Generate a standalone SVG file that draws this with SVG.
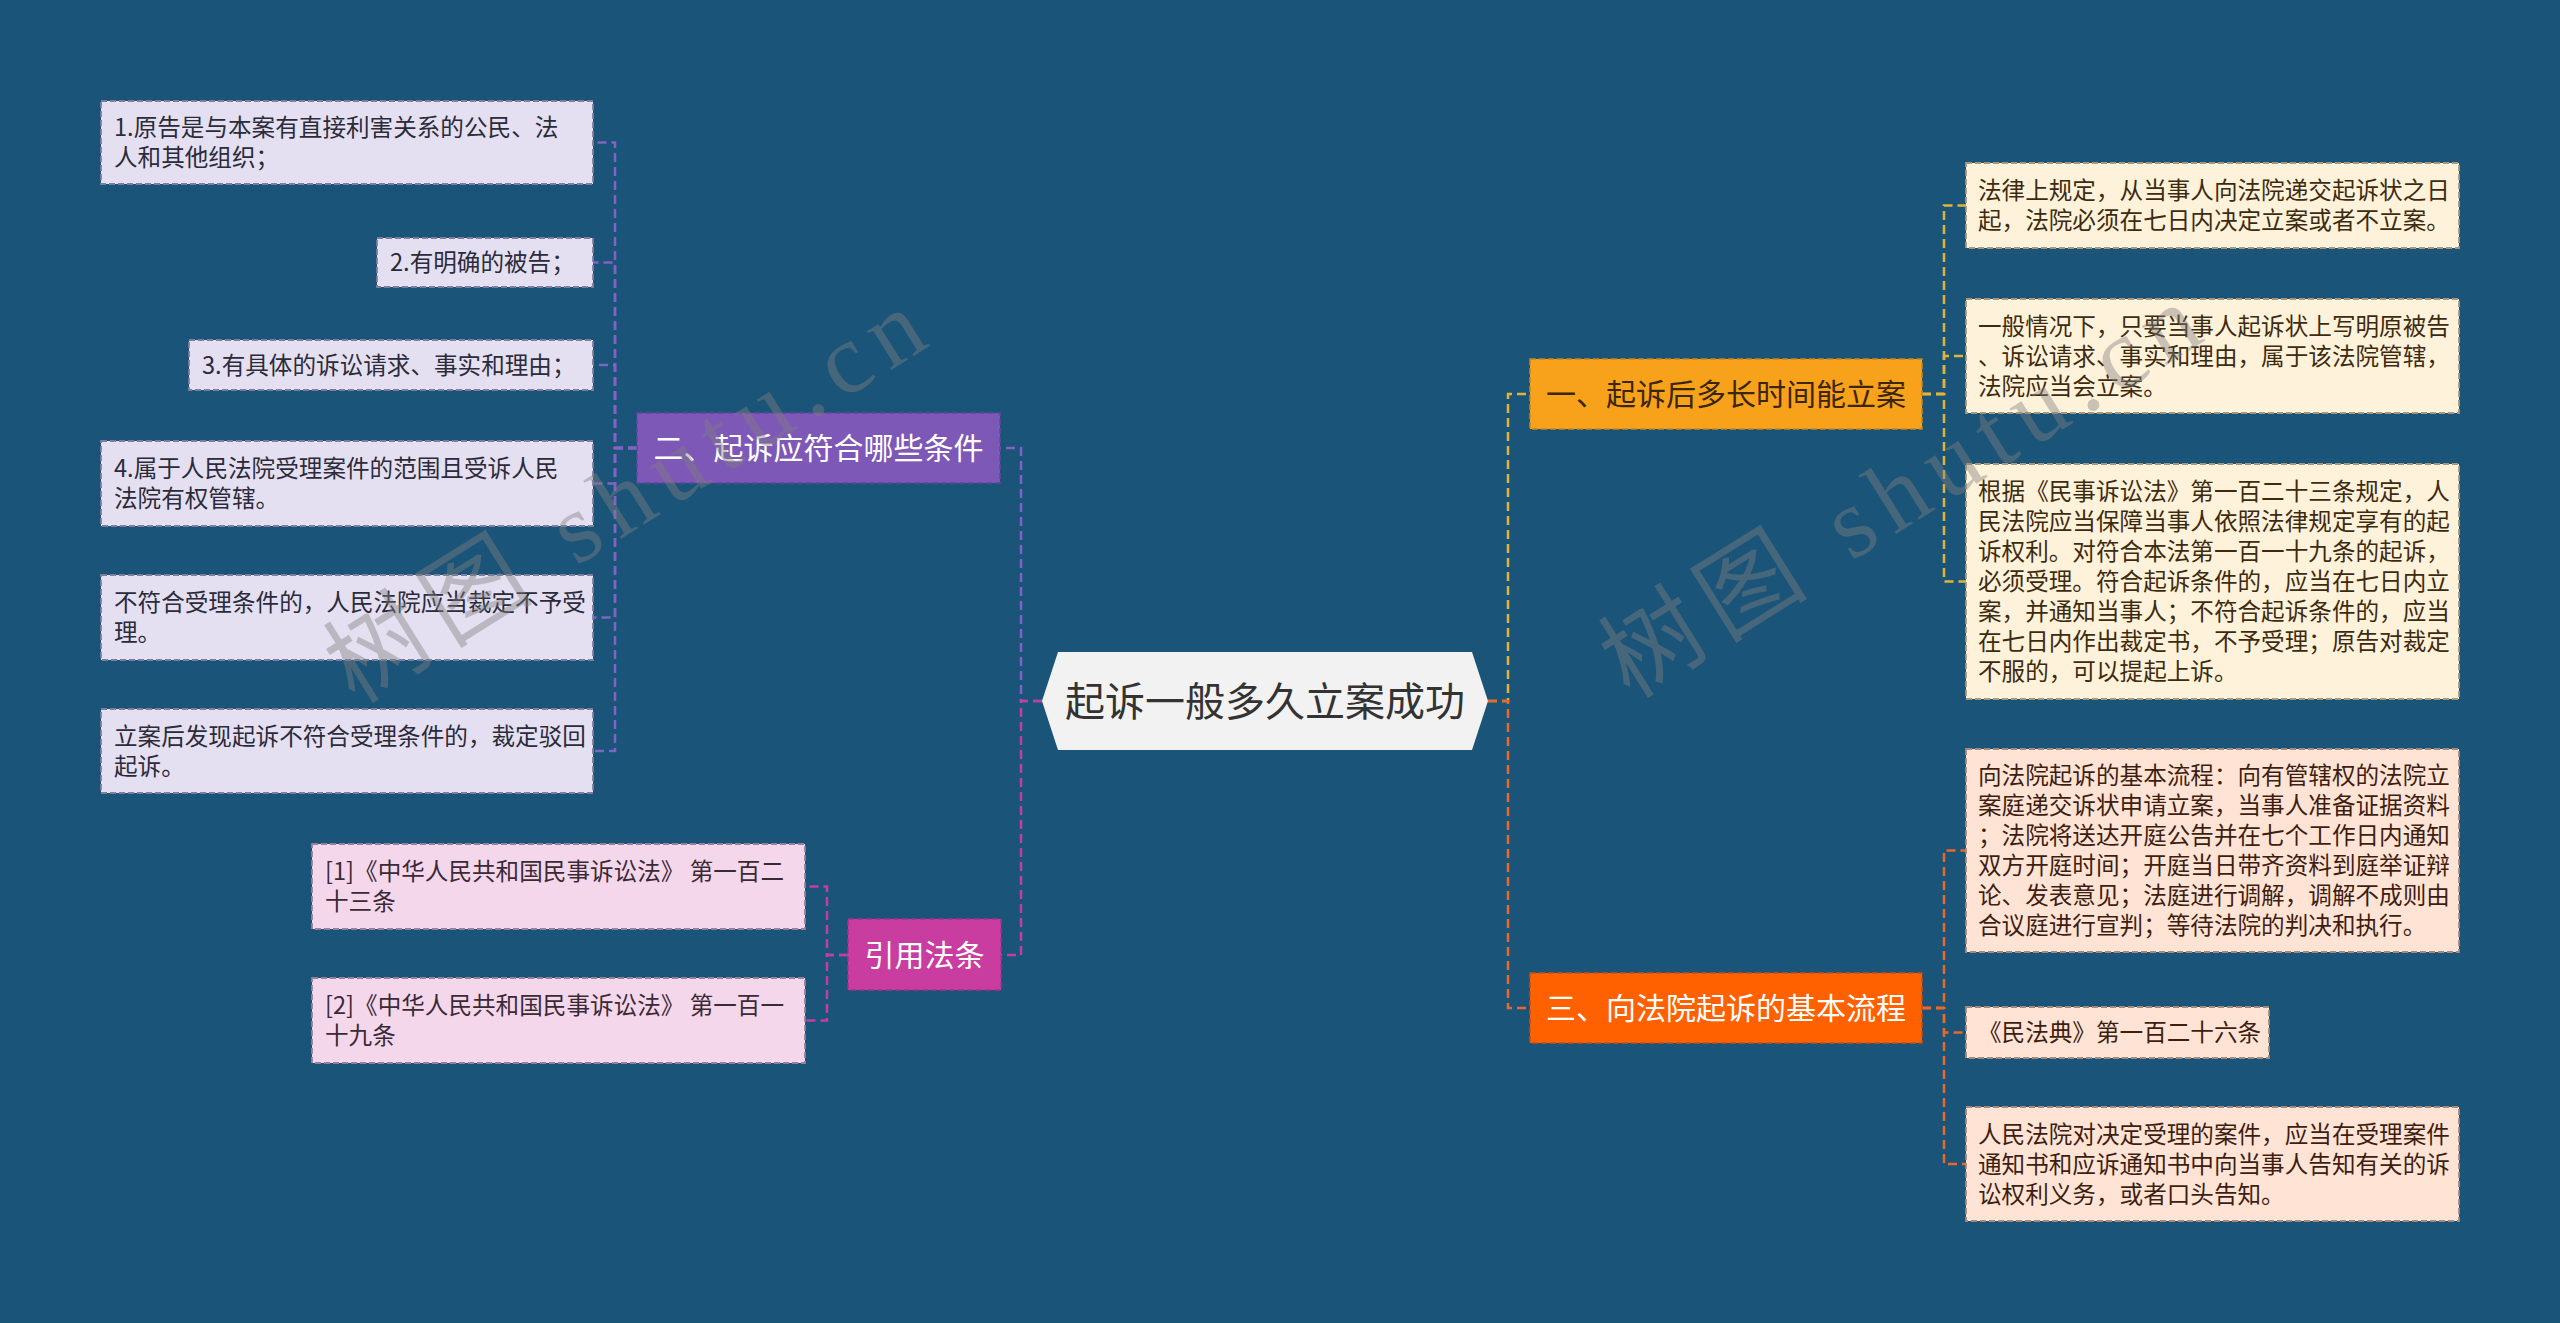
<svg xmlns="http://www.w3.org/2000/svg" width="2560" height="1323" viewBox="0 0 2560 1323">
<style>
text{font-family:"Noto Sans CJK SC","Noto Sans",sans-serif}
.t{font-size:23.6px}
.n{font-size:30px;text-anchor:middle}
.cl{fill:none;stroke-width:2.5;stroke-dasharray:9 5}
.pu{stroke:#8262c4}
.mg{stroke:#c63da0}
.ye{stroke:#e2b23a}
.or{stroke:#e8692a}
.bl{fill:#e5e0f1;stroke:#7f7d9e;stroke-width:1.8;stroke-dasharray:6 3}
.bp{fill:#f5d7ec;stroke:#98809a;stroke-width:1.8;stroke-dasharray:6 3}
.bc{fill:#fff2da;stroke:#a89878;stroke-width:1.8;stroke-dasharray:6 3}
.bd{fill:#ffe4d6;stroke:#a88878;stroke-width:1.8;stroke-dasharray:6 3}
.tl{fill:#2b2b3a}
.tp{fill:#3a2a35}
.tc{fill:#3d2b10}
.td{fill:#3d1e10}
.wm{font-family:"Liberation Serif","Noto Sans CJK SC",serif;font-size:100px;fill:#808080;opacity:0.42}
</style>
<rect x="0" y="0" width="2560" height="1323" fill="#1a5478"/>

<g id="connectors">
<path class="cl pu" d="M1042,701 H1021 V448 H1000"/>
<path class="cl mg" d="M1042,701 H1021 V955 H1001"/>
<path class="cl ye" d="M1488,701 H1508 V394 H1530"/>
<path class="cl or" d="M1488,701 H1508 V1008 H1530"/>
<path class="cl pu" d="M637,448 H615 V142.5 H593"/>
<path class="cl pu" d="M637,448 H615 V262.5 H593"/>
<path class="cl pu" d="M637,448 H615 V365 H593"/>
<path class="cl pu" d="M637,448 H615 V483.5 H593"/>
<path class="cl pu" d="M637,448 H615 V617.5 H593"/>
<path class="cl pu" d="M637,448 H615 V751 H593"/>
<path class="cl mg" d="M848,955 H827 V886.5 H805"/>
<path class="cl mg" d="M848,955 H827 V1020.5 H805"/>
<path class="cl ye" d="M1922,394 H1944 V205.5 H1966"/>
<path class="cl ye" d="M1922,394 H1944 V356 H1966"/>
<path class="cl ye" d="M1922,394 H1944 V581.5 H1966"/>
<path class="cl or" d="M1922,1008 H1944 V850.5 H1966"/>
<path class="cl or" d="M1922,1008 H1944 V1032.5 H1966"/>
<path class="cl or" d="M1922,1008 H1944 V1164 H1966"/>
</g>

<g id="root">
<polygon points="1042,701 1058,652 1472,652 1488,701 1472,750 1058,750" fill="#f2f2f2"/>
<text x="1265" y="716" font-size="40" text-anchor="middle" fill="#333">起诉一般多久立案成功</text>
</g>

<g id="n1">
<rect x="1530" y="359" width="392" height="70" fill="#f8a21c" stroke="#c9841a" stroke-width="1.5" stroke-dasharray="6 3"/>
<text class="n" x="1726" y="405" fill="#3b2608">一、起诉后多长时间能立案</text>
</g>
<g id="n3">
<rect x="1530" y="973" width="392" height="70" fill="#ff6000" stroke="#c84c10" stroke-width="1.5" stroke-dasharray="6 3"/>
<text class="n" x="1726" y="1019" fill="#ffffff">三、向法院起诉的基本流程</text>
</g>
<g id="n2">
<rect x="637" y="413" width="363" height="70" fill="#7e58b6" stroke="#6446a0" stroke-width="1.5" stroke-dasharray="6 3"/>
<text class="n" x="818.5" y="459" fill="#ffffff">二、起诉应符合哪些条件</text>
</g>
<g id="n4">
<rect x="848" y="919" width="153" height="71" fill="#c93da0" stroke="#a8308a" stroke-width="1.5" stroke-dasharray="6 3"/>
<text class="n" x="924.5" y="966" fill="#ffffff">引用法条</text>
</g>

<g id="b1">
<rect class="bl" x="101" y="101" width="492" height="83"/>
<text class="t tl" x="114" y="136">1.原告是与本案有直接利害关系的公民、法</text>
<text class="t tl" x="114" y="166">人和其他组织；</text>
</g>
<g id="b2">
<rect class="bl" x="377" y="238" width="216" height="49"/>
<text class="t tl" x="390" y="271">2.有明确的被告；</text>
</g>
<g id="b3">
<rect class="bl" x="189" y="340" width="404" height="50"/>
<text class="t tl" x="202" y="374">3.有具体的诉讼请求、事实和理由；</text>
</g>
<g id="b4">
<rect class="bl" x="101" y="441" width="492" height="85"/>
<text class="t tl" x="114" y="477">4.属于人民法院受理案件的范围且受诉人民</text>
<text class="t tl" x="114" y="507">法院有权管辖。</text>
</g>
<g id="b5">
<rect class="bl" x="101" y="575" width="492" height="85"/>
<text class="t tl" x="114" y="611">不符合受理条件的，人民法院应当裁定不予受</text>
<text class="t tl" x="114" y="641">理。</text>
</g>
<g id="b6">
<rect class="bl" x="101" y="709" width="492" height="84"/>
<text class="t tl" x="114" y="745">立案后发现起诉不符合受理条件的，裁定驳回</text>
<text class="t tl" x="114" y="775">起诉。</text>
</g>

<g id="r1">
<rect class="bp" x="312" y="844" width="493" height="85"/>
<text class="t tp" x="325" y="880">[1]《中华人民共和国民事诉讼法》 第一百二</text>
<text class="t tp" x="325" y="910">十三条</text>
</g>
<g id="r2">
<rect class="bp" x="312" y="978" width="493" height="85"/>
<text class="t tp" x="325" y="1014">[2]《中华人民共和国民事诉讼法》 第一百一</text>
<text class="t tp" x="325" y="1044">十九条</text>
</g>

<g id="c1">
<rect class="bc" x="1966" y="163" width="493" height="85"/>
<text class="t tc" x="1978" y="199">法律上规定，从当事人向法院递交起诉状之日</text>
<text class="t tc" x="1978" y="229">起，法院必须在七日内决定立案或者不立案。</text>
</g>
<g id="c2">
<rect class="bc" x="1966" y="299" width="493" height="114"/>
<text class="t tc" x="1978" y="335">一般情况下，只要当事人起诉状上写明原被告</text>
<text class="t tc" x="1978" y="365">、诉讼请求、事实和理由，属于该法院管辖，</text>
<text class="t tc" x="1978" y="395">法院应当会立案。</text>
</g>
<g id="c3">
<rect class="bc" x="1966" y="464" width="493" height="235"/>
<text class="t tc" x="1978" y="500">根据《民事诉讼法》第一百二十三条规定，人</text>
<text class="t tc" x="1978" y="530">民法院应当保障当事人依照法律规定享有的起</text>
<text class="t tc" x="1978" y="560">诉权利。对符合本法第一百一十九条的起诉，</text>
<text class="t tc" x="1978" y="590">必须受理。符合起诉条件的，应当在七日内立</text>
<text class="t tc" x="1978" y="620">案，并通知当事人；不符合起诉条件的，应当</text>
<text class="t tc" x="1978" y="650">在七日内作出裁定书，不予受理；原告对裁定</text>
<text class="t tc" x="1978" y="680">不服的，可以提起上诉。</text>
</g>

<g id="d1">
<rect class="bd" x="1966" y="749" width="493" height="203"/>
<text class="t td" x="1978" y="784">向法院起诉的基本流程：向有管辖权的法院立</text>
<text class="t td" x="1978" y="814">案庭递交诉状申请立案，当事人准备证据资料</text>
<text class="t td" x="1978" y="844">；法院将送达开庭公告并在七个工作日内通知</text>
<text class="t td" x="1978" y="874">双方开庭时间；开庭当日带齐资料到庭举证辩</text>
<text class="t td" x="1978" y="904">论、发表意见；法庭进行调解，调解不成则由</text>
<text class="t td" x="1978" y="934">合议庭进行宣判；等待法院的判决和执行。</text>
</g>
<g id="d2">
<rect class="bd" x="1966" y="1007" width="303" height="51"/>
<text class="t td" x="1978" y="1041">《民法典》第一百二十六条</text>
</g>
<g id="d3">
<rect class="bd" x="1966" y="1107" width="493" height="114"/>
<text class="t td" x="1978" y="1143">人民法院对决定受理的案件，应当在受理案件</text>
<text class="t td" x="1978" y="1173">通知书和应诉通知书中向当事人告知有关的诉</text>
<text class="t td" x="1978" y="1203">讼权利义务，或者口头告知。</text>
</g>

<g id="watermarks">
<text class="wm" x="355" y="705" transform="rotate(-32 355 705)" textLength="680" lengthAdjust="spacing">树图 shutu.cn</text>
<text class="wm" x="1630" y="700" transform="rotate(-32 1630 700)" textLength="680" lengthAdjust="spacing">树图 shutu.cn</text>
</g>
</svg>
